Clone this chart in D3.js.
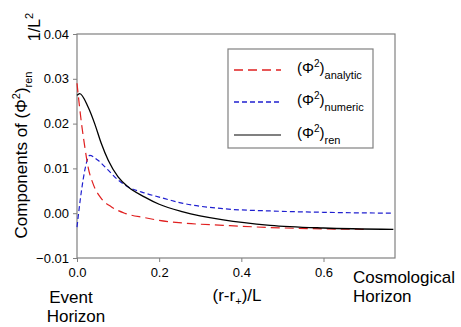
<!DOCTYPE html>
<html>
<head>
<meta charset="utf-8">
<script src="https://d3js.org/d3.v7.min.js"></script>
<style>
  body { margin: 0; background: #fff; }
  text { font-family: "Liberation Sans", Arial, sans-serif; fill: #000; }
  .frame { fill: none; stroke: #808080; stroke-width: 1.2; }
  .axis path, .axis line { stroke: #808080; }
  .axis text { font-size: 13px; font-family: "Liberation Sans", Arial, sans-serif; }
</style>
</head>
<body>
<svg width="461" height="327"></svg>
<script>
// values
var xAnalytic = [0, 0.011, 0.019, 0.027, 0.039, 0.059, 0.084, 0.116, 0.165, 0.2, 0.258, 0.356, 0.47, 0.6, 0.7];
var yAnalytic = [0.029, 0.020, 0.0148, 0.0103, 0.0066, 0.0033, 0.0014, 0.0, -0.0010, -0.0016, -0.0022, -0.0027, -0.0032, -0.0035, -0.0036];

var xNumeric = [0, 0.011, 0.019, 0.031, 0.051, 0.076, 0.10, 0.124, 0.165, 0.2, 0.258, 0.356, 0.47, 0.6, 0.77];
var yNumeric = [-0.0031, 0.0051, 0.0096, 0.0129, 0.0118, 0.0096, 0.0074, 0.0059, 0.0045, 0.0036, 0.0022, 0.0010, 0.0005, 0.0002, 0.0];

var xRen = [0, 0.0066, 0.027, 0.043, 0.059, 0.076, 0.10, 0.124, 0.165, 0.2, 0.258, 0.356, 0.47, 0.6, 0.77];
var yRen = [0.0263, 0.0267, 0.0237, 0.020, 0.0156, 0.0118, 0.0081, 0.0059, 0.0036, 0.0020, 0.0003, -0.0015, -0.0027, -0.0033, -0.0036];

var xTicks = [0, 0.2, 0.4, 0.6];
var yTicks = [-0.01, 0, 0.01, 0.02, 0.03, 0.04];

var svg = d3.select("svg");
var pLeft = 77, pRight = 395, pTop = 34, pBottom = 258;

var x = d3.scaleLinear().domain([0, 0.774]).range([pLeft, pRight]);
var y = d3.scaleLinear().domain([-0.01, 0.04]).range([pBottom, pTop]);

svg.append("g")
    .attr("class", "axis")
    .attr("transform", "translate(0," + pBottom + ")")
    .call(d3.axisBottom(x).tickValues(xTicks).tickSize(4).tickSizeOuter(0).tickPadding(6)
      .tickFormat(d3.format(".1f")))
    .call(function(g) { g.select(".domain").remove(); });

svg.append("g")
    .attr("class", "axis")
    .attr("transform", "translate(" + pLeft + ",0)")
    .call(d3.axisLeft(y).tickValues(yTicks).tickSize(4).tickSizeOuter(0).tickPadding(4)
      .tickFormat(d3.format(".2f")))
    .call(function(g) { g.select(".domain").remove(); });

svg.append("rect")
    .attr("class", "frame")
    .attr("x", pLeft).attr("y", pTop)
    .attr("width", pRight - pLeft).attr("height", pBottom - pTop);

var line = d3.line()
    .x(function(d) { return x(d[0]); })
    .y(function(d) { return y(d[1]); })
    .curve(d3.curveMonotoneX);

svg.append("path")
    .datum(d3.zip(xNumeric, yNumeric))
    .attr("d", line)
    .attr("fill", "none").attr("stroke", "#2020d0").attr("stroke-width", 1.2)
    .attr("stroke-dasharray", "5,3");

svg.append("path")
    .datum(d3.zip(xAnalytic, yAnalytic))
    .attr("d", line)
    .attr("fill", "none").attr("stroke", "#e02020").attr("stroke-width", 1.2)
    .attr("stroke-dasharray", "9,5");

svg.append("path")
    .datum(d3.zip(xRen, yRen))
    .attr("d", line)
    .attr("fill", "none").attr("stroke", "#000").attr("stroke-width", 1.3);

// legend
var legend = svg.append("g");
legend.append("rect")
    .attr("x", 228).attr("y", 49).attr("width", 145).attr("height", 99)
    .attr("fill", "#fff").attr("stroke", "#808080").attr("stroke-width", 1.2);

var legendItems = [
  { sub: "analytic", color: "#e02020", dash: "9,5", y: 70 },
  { sub: "numeric", color: "#2020d0", dash: "5,3", y: 102 },
  { sub: "ren", color: "#808080", dash: null, y: 135 }
];
legendItems.forEach(function(it) {
  legend.append("line")
      .attr("x1", 234).attr("x2", 281).attr("y1", it.y).attr("y2", it.y)
      .attr("stroke", it.color).attr("stroke-width", it.dash ? 1.3 : 2)
      .attr("stroke-dasharray", it.dash);
  var t = legend.append("text").attr("x", 297).attr("y", it.y + 3).style("font-size", "15px");
  t.append("tspan").text("(\u03A6");
  t.append("tspan").attr("dy", -6).style("font-size", "10px").text("2");
  t.append("tspan").attr("dy", 6).text(")");
  t.append("tspan").attr("dy", 6).style("font-size", "11px").text(it.sub);
});

// y axis title
var yt = svg.append("text")
    .attr("transform", "translate(27,155) rotate(-90)")
    .attr("text-anchor", "middle").style("font-size", "17px");
yt.append("tspan").text("Components of (\u03A6");
yt.append("tspan").attr("dy", -7).style("font-size", "11px").text("2");
yt.append("tspan").attr("dy", 7).text(")");
yt.append("tspan").attr("dy", 5).style("font-size", "11px").text("ren");

var ut = svg.append("text")
    .attr("transform", "translate(40,27) rotate(-90)")
    .attr("text-anchor", "middle").style("font-size", "16px");
ut.append("tspan").text("1/L");
ut.append("tspan").attr("dy", -7).style("font-size", "11px").text("2");

// x axis labels
var xt = svg.append("text").attr("x", 237).attr("y", 301)
    .attr("text-anchor", "middle").style("font-size", "17px");
xt.append("tspan").text("(r-r");
xt.append("tspan").attr("dy", 4).style("font-size", "11px").text("+");
xt.append("tspan").attr("dy", -4).text(")/L");

svg.append("text").attr("x", 71).attr("y", 303).attr("text-anchor", "middle")
    .style("font-size", "17px").text("Event");
svg.append("text").attr("x", 76).attr("y", 322).attr("text-anchor", "middle")
    .style("font-size", "17px").text("Horizon");
svg.append("text").attr("x", 353).attr("y", 283)
    .style("font-size", "17px").text("Cosmological");
svg.append("text").attr("x", 353).attr("y", 302)
    .style("font-size", "17px").text("Horizon");
</script>
</body>
</html>
